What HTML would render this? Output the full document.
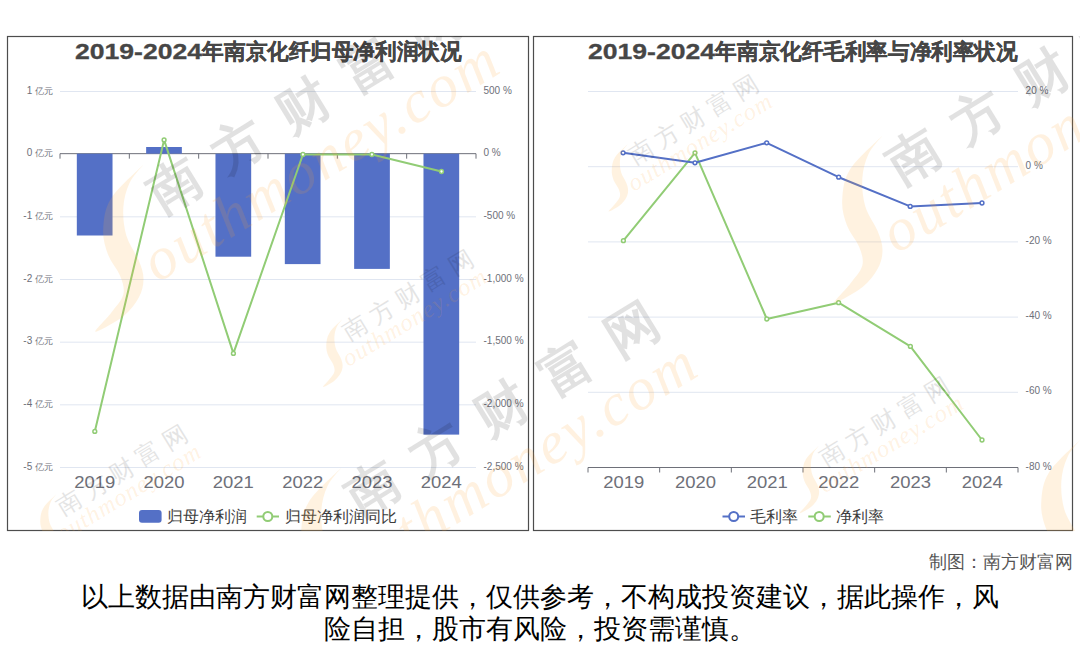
<!DOCTYPE html><html><head><meta charset="utf-8"><style>
html,body{margin:0;padding:0;background:#fff;width:1080px;height:646px;overflow:hidden}
svg{display:block;font-family:"Liberation Sans", sans-serif}
.t{position:absolute;white-space:nowrap;font-family:"Liberation Sans", sans-serif}
</style></head><body>
<svg width="1080" height="646" viewBox="0 0 1080 646">

<rect x="7.5" y="36.5" width="521" height="494" fill="none" stroke="#4d4d4d" stroke-width="1.2"/>
<line x1="60" y1="91.50" x2="476" y2="91.50" stroke="#E0E6F1" stroke-width="1"/>
<line x1="60" y1="216.83" x2="476" y2="216.83" stroke="#E0E6F1" stroke-width="1"/>
<line x1="60" y1="279.50" x2="476" y2="279.50" stroke="#E0E6F1" stroke-width="1"/>
<line x1="60" y1="342.17" x2="476" y2="342.17" stroke="#E0E6F1" stroke-width="1"/>
<line x1="60" y1="404.83" x2="476" y2="404.83" stroke="#E0E6F1" stroke-width="1"/>
<line x1="60" y1="467.50" x2="476" y2="467.50" stroke="#E0E6F1" stroke-width="1"/>
<line x1="60" y1="153.67" x2="476" y2="153.67" stroke="#6E7079" stroke-width="1"/>
<line x1="60.00" y1="153.67" x2="60.00" y2="158.67" stroke="#6E7079" stroke-width="1"/>
<line x1="129.33" y1="153.67" x2="129.33" y2="158.67" stroke="#6E7079" stroke-width="1"/>
<line x1="198.67" y1="153.67" x2="198.67" y2="158.67" stroke="#6E7079" stroke-width="1"/>
<line x1="268.00" y1="153.67" x2="268.00" y2="158.67" stroke="#6E7079" stroke-width="1"/>
<line x1="337.33" y1="153.67" x2="337.33" y2="158.67" stroke="#6E7079" stroke-width="1"/>
<line x1="406.67" y1="153.67" x2="406.67" y2="158.67" stroke="#6E7079" stroke-width="1"/>
<line x1="476.00" y1="153.67" x2="476.00" y2="158.67" stroke="#6E7079" stroke-width="1"/>
<rect x="76.82" y="153.67" width="35.7" height="81.83" fill="#5470C6"/>
<rect x="146.15" y="147.00" width="35.7" height="6.67" fill="#5470C6"/>
<rect x="215.48" y="153.67" width="35.7" height="103.03" fill="#5470C6"/>
<rect x="284.82" y="153.67" width="35.7" height="110.43" fill="#5470C6"/>
<rect x="354.15" y="153.67" width="35.7" height="115.23" fill="#5470C6"/>
<rect x="423.48" y="153.67" width="35.7" height="280.93" fill="#5470C6"/>
<text x="53" y="93.50" font-size="10" fill="#6E7079" text-anchor="end">1 <tspan font-size="9">亿元</tspan></text>
<text x="53" y="156.17" font-size="10" fill="#6E7079" text-anchor="end">0 <tspan font-size="9">亿元</tspan></text>
<text x="53" y="218.83" font-size="10" fill="#6E7079" text-anchor="end">-1 <tspan font-size="9">亿元</tspan></text>
<text x="53" y="281.50" font-size="10" fill="#6E7079" text-anchor="end">-2 <tspan font-size="9">亿元</tspan></text>
<text x="53" y="344.17" font-size="10" fill="#6E7079" text-anchor="end">-3 <tspan font-size="9">亿元</tspan></text>
<text x="53" y="406.83" font-size="10" fill="#6E7079" text-anchor="end">-4 <tspan font-size="9">亿元</tspan></text>
<text x="53" y="469.50" font-size="10" fill="#6E7079" text-anchor="end">-5 <tspan font-size="9">亿元</tspan></text>
<text x="483.5" y="93.50" font-size="10" fill="#6E7079">500 %</text>
<text x="483.5" y="156.17" font-size="10" fill="#6E7079">0 %</text>
<text x="483.5" y="218.83" font-size="10" fill="#6E7079">-500 %</text>
<text x="483.5" y="281.50" font-size="10" fill="#6E7079">-1,000 %</text>
<text x="483.5" y="344.17" font-size="10" fill="#6E7079">-1,500 %</text>
<text x="483.5" y="406.83" font-size="10" fill="#6E7079">-2,000 %</text>
<text x="483.5" y="469.50" font-size="10" fill="#6E7079">-2,500 %</text>
<text x="74.17" y="488" font-size="16" fill="#6E7079" textLength="41" lengthAdjust="spacingAndGlyphs">2019</text>
<text x="143.50" y="488" font-size="16" fill="#6E7079" textLength="41" lengthAdjust="spacingAndGlyphs">2020</text>
<text x="212.83" y="488" font-size="16" fill="#6E7079" textLength="41" lengthAdjust="spacingAndGlyphs">2021</text>
<text x="282.17" y="488" font-size="16" fill="#6E7079" textLength="41" lengthAdjust="spacingAndGlyphs">2022</text>
<text x="351.50" y="488" font-size="16" fill="#6E7079" textLength="41" lengthAdjust="spacingAndGlyphs">2023</text>
<text x="420.83" y="488" font-size="16" fill="#6E7079" textLength="41" lengthAdjust="spacingAndGlyphs">2024</text>
<polyline fill="none" stroke="#91CC75" stroke-width="2" stroke-linejoin="round" points="94.8,431.4 164.1,139.9 233.4,353.4 302.9,154.5 371.9,154.5 441.5,171.5"/>
<circle cx="94.8" cy="431.4" r="1.9" fill="#fff" stroke="#91CC75" stroke-width="1.5"/>
<circle cx="164.1" cy="139.9" r="1.9" fill="#fff" stroke="#91CC75" stroke-width="1.5"/>
<circle cx="233.4" cy="353.4" r="1.9" fill="#fff" stroke="#91CC75" stroke-width="1.5"/>
<circle cx="302.9" cy="154.5" r="1.9" fill="#fff" stroke="#91CC75" stroke-width="1.5"/>
<circle cx="371.9" cy="154.5" r="1.9" fill="#fff" stroke="#91CC75" stroke-width="1.5"/>
<circle cx="441.5" cy="171.5" r="1.9" fill="#fff" stroke="#91CC75" stroke-width="1.5"/>
<text x="75" y="59" font-size="21.5" font-weight="bold" fill="#464646" stroke="#464646" stroke-width="0.3" textLength="127" lengthAdjust="spacingAndGlyphs">2019-2024</text>
<text x="202.4" y="59" font-size="21.6" font-weight="bold" fill="#464646" stroke="#464646" stroke-width="0.3" textLength="259" lengthAdjust="spacingAndGlyphs">年南京化纤归母净利润状况</text>
<rect x="139" y="510" width="22.6" height="12.8" rx="3" fill="#5470C6"/>
<text x="167" y="522" font-size="16.1" fill="#3d3d3d">归母净利润</text>
<line x1="256.7" y1="516.5" x2="279" y2="516.5" stroke="#91CC75" stroke-width="2"/>
<circle cx="267.8" cy="516.5" r="4.5" fill="#fff" stroke="#91CC75" stroke-width="2"/>
<text x="284.8" y="522" font-size="16.1" fill="#3d3d3d">归母净利润同比</text>
<rect x="533.5" y="36.5" width="539" height="494" fill="none" stroke="#4d4d4d" stroke-width="1.2"/>
<line x1="588" y1="91.50" x2="1018" y2="91.50" stroke="#E0E6F1" stroke-width="1"/>
<line x1="588" y1="166.70" x2="1018" y2="166.70" stroke="#E0E6F1" stroke-width="1"/>
<line x1="588" y1="241.90" x2="1018" y2="241.90" stroke="#E0E6F1" stroke-width="1"/>
<line x1="588" y1="317.10" x2="1018" y2="317.10" stroke="#E0E6F1" stroke-width="1"/>
<line x1="588" y1="392.30" x2="1018" y2="392.30" stroke="#E0E6F1" stroke-width="1"/>
<line x1="588" y1="467.5" x2="1018" y2="467.5" stroke="#6E7079" stroke-width="1"/>
<line x1="588.00" y1="467.5" x2="588.00" y2="472.5" stroke="#6E7079" stroke-width="1"/>
<line x1="659.67" y1="467.5" x2="659.67" y2="472.5" stroke="#6E7079" stroke-width="1"/>
<line x1="731.33" y1="467.5" x2="731.33" y2="472.5" stroke="#6E7079" stroke-width="1"/>
<line x1="803.00" y1="467.5" x2="803.00" y2="472.5" stroke="#6E7079" stroke-width="1"/>
<line x1="874.67" y1="467.5" x2="874.67" y2="472.5" stroke="#6E7079" stroke-width="1"/>
<line x1="946.33" y1="467.5" x2="946.33" y2="472.5" stroke="#6E7079" stroke-width="1"/>
<line x1="1018.00" y1="467.5" x2="1018.00" y2="472.5" stroke="#6E7079" stroke-width="1"/>
<text x="1025.6" y="93.50" font-size="10" fill="#6E7079">20 %</text>
<text x="1025.6" y="168.70" font-size="10" fill="#6E7079">0 %</text>
<text x="1025.6" y="243.90" font-size="10" fill="#6E7079">-20 %</text>
<text x="1025.6" y="319.10" font-size="10" fill="#6E7079">-40 %</text>
<text x="1025.6" y="394.30" font-size="10" fill="#6E7079">-60 %</text>
<text x="1025.6" y="469.50" font-size="10" fill="#6E7079">-80 %</text>
<text x="603.33" y="488" font-size="16" fill="#6E7079" textLength="41" lengthAdjust="spacingAndGlyphs">2019</text>
<text x="675.00" y="488" font-size="16" fill="#6E7079" textLength="41" lengthAdjust="spacingAndGlyphs">2020</text>
<text x="746.67" y="488" font-size="16" fill="#6E7079" textLength="41" lengthAdjust="spacingAndGlyphs">2021</text>
<text x="818.33" y="488" font-size="16" fill="#6E7079" textLength="41" lengthAdjust="spacingAndGlyphs">2022</text>
<text x="890.00" y="488" font-size="16" fill="#6E7079" textLength="41" lengthAdjust="spacingAndGlyphs">2023</text>
<text x="961.67" y="488" font-size="16" fill="#6E7079" textLength="41" lengthAdjust="spacingAndGlyphs">2024</text>
<polyline fill="none" stroke="#91CC75" stroke-width="2" stroke-linejoin="round" points="623.4,240.7 695,152.8 766.8,319 838.6,302.7 910.4,346.4 982,440"/>
<circle cx="623.4" cy="240.7" r="1.9" fill="#fff" stroke="#91CC75" stroke-width="1.5"/>
<circle cx="695" cy="152.8" r="1.9" fill="#fff" stroke="#91CC75" stroke-width="1.5"/>
<circle cx="766.8" cy="319" r="1.9" fill="#fff" stroke="#91CC75" stroke-width="1.5"/>
<circle cx="838.6" cy="302.7" r="1.9" fill="#fff" stroke="#91CC75" stroke-width="1.5"/>
<circle cx="910.4" cy="346.4" r="1.9" fill="#fff" stroke="#91CC75" stroke-width="1.5"/>
<circle cx="982" cy="440" r="1.9" fill="#fff" stroke="#91CC75" stroke-width="1.5"/>
<polyline fill="none" stroke="#5470C6" stroke-width="2" stroke-linejoin="round" points="623.1,152.8 695,162.8 766.7,142.8 838.7,177.2 910.2,206.4 982,203"/>
<circle cx="623.1" cy="152.8" r="1.9" fill="#fff" stroke="#5470C6" stroke-width="1.5"/>
<circle cx="695" cy="162.8" r="1.9" fill="#fff" stroke="#5470C6" stroke-width="1.5"/>
<circle cx="766.7" cy="142.8" r="1.9" fill="#fff" stroke="#5470C6" stroke-width="1.5"/>
<circle cx="838.7" cy="177.2" r="1.9" fill="#fff" stroke="#5470C6" stroke-width="1.5"/>
<circle cx="910.2" cy="206.4" r="1.9" fill="#fff" stroke="#5470C6" stroke-width="1.5"/>
<circle cx="982" cy="203" r="1.9" fill="#fff" stroke="#5470C6" stroke-width="1.5"/>
<text x="588" y="59" font-size="21.5" font-weight="bold" fill="#464646" stroke="#464646" stroke-width="0.3" textLength="127" lengthAdjust="spacingAndGlyphs">2019-2024</text>
<text x="715.4" y="59" font-size="21.6" font-weight="bold" fill="#464646" stroke="#464646" stroke-width="0.3" textLength="302" lengthAdjust="spacingAndGlyphs">年南京化纤毛利率与净利率状况</text>
<line x1="722.5" y1="516.5" x2="745" y2="516.5" stroke="#5470C6" stroke-width="2"/>
<circle cx="733.7" cy="516.5" r="4.5" fill="#fff" stroke="#5470C6" stroke-width="2"/>
<text x="750" y="522" font-size="16.1" fill="#3d3d3d">毛利率</text>
<line x1="808.3" y1="516.5" x2="830.8" y2="516.5" stroke="#91CC75" stroke-width="2"/>
<circle cx="819.2" cy="516.5" r="4.5" fill="#fff" stroke="#91CC75" stroke-width="2"/>
<text x="835.8" y="522" font-size="16.1" fill="#3d3d3d">净利率</text>
<defs><clipPath id="wclip"><rect x="0" y="36" width="1080" height="495"/></clipPath></defs>
<g clip-path="url(#wclip)">
<g transform="translate(913,155) scale(1.0)">
<path d="M-30.5,-19.5 C-32.8,-16.4 -41.1,-8.2 -44.5,-1.0 C-47.9,6.2 -50.2,15.0 -50.7,23.8 C-51.2,32.6 -50.2,42.9 -47.6,51.7 C-45.0,60.5 -38.1,69.3 -35.2,76.5 C-32.4,83.7 -30.5,88.8 -30.5,95.0 C-30.5,101.2 -31.8,107.4 -35.2,113.6 C-38.6,119.8 -43.5,126.5 -50.7,132.2 C-57.9,137.9 -76.5,148.2 -78.5,147.7 C-80.5,147.2 -67.6,135.2 -63.0,129.0 C-58.4,122.8 -52.2,116.7 -50.7,110.5 C-49.2,104.3 -51.2,98.7 -53.8,92.0 C-56.4,85.3 -63.3,78.0 -66.1,70.3 C-68.9,62.5 -71.3,54.8 -70.8,45.5 C-70.3,36.2 -69.7,25.3 -63.0,14.5 C-56.3,3.7 -35.9,-13.8 -30.5,-19.5Z" fill="#FFB040" fill-opacity="0.16"/>
<g transform="rotate(-31.5)">
<g opacity="0.115" fill="#000">
<text x="0" y="18.7" font-size="52" font-weight="bold" text-anchor="middle">南</text>
<text x="76" y="18.7" font-size="52" font-weight="bold" text-anchor="middle">方</text>
<text x="152" y="18.7" font-size="52" font-weight="bold" text-anchor="middle">财</text>
<text x="228" y="18.7" font-size="52" font-weight="bold" text-anchor="middle">富</text>
<text x="304" y="18.7" font-size="52" font-weight="bold" text-anchor="middle">网</text>
</g>
<text x="-66" y="76" font-size="60" font-family="Liberation Serif" font-style="italic" fill="#FFA030" fill-opacity="0.15" textLength="405" lengthAdjust="spacing">outhmoney.com</text>
</g></g>
<g transform="translate(174,184) scale(1.0)">
<path d="M-30.5,-19.5 C-32.8,-16.4 -41.1,-8.2 -44.5,-1.0 C-47.9,6.2 -50.2,15.0 -50.7,23.8 C-51.2,32.6 -50.2,42.9 -47.6,51.7 C-45.0,60.5 -38.1,69.3 -35.2,76.5 C-32.4,83.7 -30.5,88.8 -30.5,95.0 C-30.5,101.2 -31.8,107.4 -35.2,113.6 C-38.6,119.8 -43.5,126.5 -50.7,132.2 C-57.9,137.9 -76.5,148.2 -78.5,147.7 C-80.5,147.2 -67.6,135.2 -63.0,129.0 C-58.4,122.8 -52.2,116.7 -50.7,110.5 C-49.2,104.3 -51.2,98.7 -53.8,92.0 C-56.4,85.3 -63.3,78.0 -66.1,70.3 C-68.9,62.5 -71.3,54.8 -70.8,45.5 C-70.3,36.2 -69.7,25.3 -63.0,14.5 C-56.3,3.7 -35.9,-13.8 -30.5,-19.5Z" fill="#FFB040" fill-opacity="0.16"/>
<g transform="rotate(-31.5)">
<g opacity="0.115" fill="#000">
<text x="0" y="18.7" font-size="52" font-weight="bold" text-anchor="middle">南</text>
<text x="76" y="18.7" font-size="52" font-weight="bold" text-anchor="middle">方</text>
<text x="152" y="18.7" font-size="52" font-weight="bold" text-anchor="middle">财</text>
<text x="228" y="18.7" font-size="52" font-weight="bold" text-anchor="middle">富</text>
<text x="304" y="18.7" font-size="52" font-weight="bold" text-anchor="middle">网</text>
</g>
<text x="-66" y="76" font-size="60" font-family="Liberation Serif" font-style="italic" fill="#FFA030" fill-opacity="0.15" textLength="405" lengthAdjust="spacing">outhmoney.com</text>
</g></g>
<g transform="translate(372,487) scale(1.0)">
<path d="M-30.5,-19.5 C-32.8,-16.4 -41.1,-8.2 -44.5,-1.0 C-47.9,6.2 -50.2,15.0 -50.7,23.8 C-51.2,32.6 -50.2,42.9 -47.6,51.7 C-45.0,60.5 -38.1,69.3 -35.2,76.5 C-32.4,83.7 -30.5,88.8 -30.5,95.0 C-30.5,101.2 -31.8,107.4 -35.2,113.6 C-38.6,119.8 -43.5,126.5 -50.7,132.2 C-57.9,137.9 -76.5,148.2 -78.5,147.7 C-80.5,147.2 -67.6,135.2 -63.0,129.0 C-58.4,122.8 -52.2,116.7 -50.7,110.5 C-49.2,104.3 -51.2,98.7 -53.8,92.0 C-56.4,85.3 -63.3,78.0 -66.1,70.3 C-68.9,62.5 -71.3,54.8 -70.8,45.5 C-70.3,36.2 -69.7,25.3 -63.0,14.5 C-56.3,3.7 -35.9,-13.8 -30.5,-19.5Z" fill="#FFB040" fill-opacity="0.16"/>
<g transform="rotate(-31.5)">
<g opacity="0.115" fill="#000">
<text x="0" y="18.7" font-size="52" font-weight="bold" text-anchor="middle">南</text>
<text x="76" y="18.7" font-size="52" font-weight="bold" text-anchor="middle">方</text>
<text x="152" y="18.7" font-size="52" font-weight="bold" text-anchor="middle">财</text>
<text x="228" y="18.7" font-size="52" font-weight="bold" text-anchor="middle">富</text>
<text x="304" y="18.7" font-size="52" font-weight="bold" text-anchor="middle">网</text>
</g>
<text x="-66" y="76" font-size="60" font-family="Liberation Serif" font-style="italic" fill="#FFA030" fill-opacity="0.15" textLength="405" lengthAdjust="spacing">outhmoney.com</text>
</g></g>
<g transform="translate(1112,458) scale(1.0)">
<path d="M-30.5,-19.5 C-32.8,-16.4 -41.1,-8.2 -44.5,-1.0 C-47.9,6.2 -50.2,15.0 -50.7,23.8 C-51.2,32.6 -50.2,42.9 -47.6,51.7 C-45.0,60.5 -38.1,69.3 -35.2,76.5 C-32.4,83.7 -30.5,88.8 -30.5,95.0 C-30.5,101.2 -31.8,107.4 -35.2,113.6 C-38.6,119.8 -43.5,126.5 -50.7,132.2 C-57.9,137.9 -76.5,148.2 -78.5,147.7 C-80.5,147.2 -67.6,135.2 -63.0,129.0 C-58.4,122.8 -52.2,116.7 -50.7,110.5 C-49.2,104.3 -51.2,98.7 -53.8,92.0 C-56.4,85.3 -63.3,78.0 -66.1,70.3 C-68.9,62.5 -71.3,54.8 -70.8,45.5 C-70.3,36.2 -69.7,25.3 -63.0,14.5 C-56.3,3.7 -35.9,-13.8 -30.5,-19.5Z" fill="#FFB040" fill-opacity="0.16"/>
<g transform="rotate(-31.5)">
<g opacity="0.115" fill="#000">
<text x="0" y="18.7" font-size="52" font-weight="bold" text-anchor="middle">南</text>
<text x="76" y="18.7" font-size="52" font-weight="bold" text-anchor="middle">方</text>
<text x="152" y="18.7" font-size="52" font-weight="bold" text-anchor="middle">财</text>
<text x="228" y="18.7" font-size="52" font-weight="bold" text-anchor="middle">富</text>
<text x="304" y="18.7" font-size="52" font-weight="bold" text-anchor="middle">网</text>
</g>
<text x="-66" y="76" font-size="60" font-family="Liberation Serif" font-style="italic" fill="#FFA030" fill-opacity="0.15" textLength="405" lengthAdjust="spacing">outhmoney.com</text>
</g></g>
<g transform="translate(355,327) scale(0.406)">
<path d="M-30.5,-19.5 C-32.8,-16.4 -41.1,-8.2 -44.5,-1.0 C-47.9,6.2 -50.2,15.0 -50.7,23.8 C-51.2,32.6 -50.2,42.9 -47.6,51.7 C-45.0,60.5 -38.1,69.3 -35.2,76.5 C-32.4,83.7 -30.5,88.8 -30.5,95.0 C-30.5,101.2 -31.8,107.4 -35.2,113.6 C-38.6,119.8 -43.5,126.5 -50.7,132.2 C-57.9,137.9 -76.5,148.2 -78.5,147.7 C-80.5,147.2 -67.6,135.2 -63.0,129.0 C-58.4,122.8 -52.2,116.7 -50.7,110.5 C-49.2,104.3 -51.2,98.7 -53.8,92.0 C-56.4,85.3 -63.3,78.0 -66.1,70.3 C-68.9,62.5 -71.3,54.8 -70.8,45.5 C-70.3,36.2 -69.7,25.3 -63.0,14.5 C-56.3,3.7 -35.9,-13.8 -30.5,-19.5Z" fill="#FFB040" fill-opacity="0.16"/>
<g transform="rotate(-31.5)">
<g opacity="0.10" fill="#000">
<text x="0" y="21.6" font-size="60" font-weight="500" text-anchor="middle">南</text>
<text x="76" y="21.6" font-size="60" font-weight="500" text-anchor="middle">方</text>
<text x="152" y="21.6" font-size="60" font-weight="500" text-anchor="middle">财</text>
<text x="228" y="21.6" font-size="60" font-weight="500" text-anchor="middle">富</text>
<text x="304" y="21.6" font-size="60" font-weight="500" text-anchor="middle">网</text>
</g>
<text x="-66" y="76" font-size="60" font-family="Liberation Serif" font-style="italic" fill="#FFA030" fill-opacity="0.15" textLength="405" lengthAdjust="spacing">outhmoney.com</text>
</g></g>
<g transform="translate(69,502) scale(0.406)">
<path d="M-30.5,-19.5 C-32.8,-16.4 -41.1,-8.2 -44.5,-1.0 C-47.9,6.2 -50.2,15.0 -50.7,23.8 C-51.2,32.6 -50.2,42.9 -47.6,51.7 C-45.0,60.5 -38.1,69.3 -35.2,76.5 C-32.4,83.7 -30.5,88.8 -30.5,95.0 C-30.5,101.2 -31.8,107.4 -35.2,113.6 C-38.6,119.8 -43.5,126.5 -50.7,132.2 C-57.9,137.9 -76.5,148.2 -78.5,147.7 C-80.5,147.2 -67.6,135.2 -63.0,129.0 C-58.4,122.8 -52.2,116.7 -50.7,110.5 C-49.2,104.3 -51.2,98.7 -53.8,92.0 C-56.4,85.3 -63.3,78.0 -66.1,70.3 C-68.9,62.5 -71.3,54.8 -70.8,45.5 C-70.3,36.2 -69.7,25.3 -63.0,14.5 C-56.3,3.7 -35.9,-13.8 -30.5,-19.5Z" fill="#FFB040" fill-opacity="0.16"/>
<g transform="rotate(-31.5)">
<g opacity="0.10" fill="#000">
<text x="0" y="21.6" font-size="60" font-weight="500" text-anchor="middle">南</text>
<text x="76" y="21.6" font-size="60" font-weight="500" text-anchor="middle">方</text>
<text x="152" y="21.6" font-size="60" font-weight="500" text-anchor="middle">财</text>
<text x="228" y="21.6" font-size="60" font-weight="500" text-anchor="middle">富</text>
<text x="304" y="21.6" font-size="60" font-weight="500" text-anchor="middle">网</text>
</g>
<text x="-66" y="76" font-size="60" font-family="Liberation Serif" font-style="italic" fill="#FFA030" fill-opacity="0.15" textLength="405" lengthAdjust="spacing">outhmoney.com</text>
</g></g>
<g transform="translate(640.5,151.6) scale(0.406)">
<path d="M-30.5,-19.5 C-32.8,-16.4 -41.1,-8.2 -44.5,-1.0 C-47.9,6.2 -50.2,15.0 -50.7,23.8 C-51.2,32.6 -50.2,42.9 -47.6,51.7 C-45.0,60.5 -38.1,69.3 -35.2,76.5 C-32.4,83.7 -30.5,88.8 -30.5,95.0 C-30.5,101.2 -31.8,107.4 -35.2,113.6 C-38.6,119.8 -43.5,126.5 -50.7,132.2 C-57.9,137.9 -76.5,148.2 -78.5,147.7 C-80.5,147.2 -67.6,135.2 -63.0,129.0 C-58.4,122.8 -52.2,116.7 -50.7,110.5 C-49.2,104.3 -51.2,98.7 -53.8,92.0 C-56.4,85.3 -63.3,78.0 -66.1,70.3 C-68.9,62.5 -71.3,54.8 -70.8,45.5 C-70.3,36.2 -69.7,25.3 -63.0,14.5 C-56.3,3.7 -35.9,-13.8 -30.5,-19.5Z" fill="#FFB040" fill-opacity="0.16"/>
<g transform="rotate(-31.5)">
<g opacity="0.10" fill="#000">
<text x="0" y="21.6" font-size="60" font-weight="500" text-anchor="middle">南</text>
<text x="76" y="21.6" font-size="60" font-weight="500" text-anchor="middle">方</text>
<text x="152" y="21.6" font-size="60" font-weight="500" text-anchor="middle">财</text>
<text x="228" y="21.6" font-size="60" font-weight="500" text-anchor="middle">富</text>
<text x="304" y="21.6" font-size="60" font-weight="500" text-anchor="middle">网</text>
</g>
<text x="-66" y="76" font-size="60" font-family="Liberation Serif" font-style="italic" fill="#FFA030" fill-opacity="0.15" textLength="405" lengthAdjust="spacing">outhmoney.com</text>
</g></g>
<g transform="translate(831.5,453.3) scale(0.406)">
<path d="M-30.5,-19.5 C-32.8,-16.4 -41.1,-8.2 -44.5,-1.0 C-47.9,6.2 -50.2,15.0 -50.7,23.8 C-51.2,32.6 -50.2,42.9 -47.6,51.7 C-45.0,60.5 -38.1,69.3 -35.2,76.5 C-32.4,83.7 -30.5,88.8 -30.5,95.0 C-30.5,101.2 -31.8,107.4 -35.2,113.6 C-38.6,119.8 -43.5,126.5 -50.7,132.2 C-57.9,137.9 -76.5,148.2 -78.5,147.7 C-80.5,147.2 -67.6,135.2 -63.0,129.0 C-58.4,122.8 -52.2,116.7 -50.7,110.5 C-49.2,104.3 -51.2,98.7 -53.8,92.0 C-56.4,85.3 -63.3,78.0 -66.1,70.3 C-68.9,62.5 -71.3,54.8 -70.8,45.5 C-70.3,36.2 -69.7,25.3 -63.0,14.5 C-56.3,3.7 -35.9,-13.8 -30.5,-19.5Z" fill="#FFB040" fill-opacity="0.16"/>
<g transform="rotate(-31.5)">
<g opacity="0.10" fill="#000">
<text x="0" y="21.6" font-size="60" font-weight="500" text-anchor="middle">南</text>
<text x="76" y="21.6" font-size="60" font-weight="500" text-anchor="middle">方</text>
<text x="152" y="21.6" font-size="60" font-weight="500" text-anchor="middle">财</text>
<text x="228" y="21.6" font-size="60" font-weight="500" text-anchor="middle">富</text>
<text x="304" y="21.6" font-size="60" font-weight="500" text-anchor="middle">网</text>
</g>
<text x="-66" y="76" font-size="60" font-family="Liberation Serif" font-style="italic" fill="#FFA030" fill-opacity="0.15" textLength="405" lengthAdjust="spacing">outhmoney.com</text>
</g></g>
</g>
<text x="1072.8" y="567.5" font-size="18.2" fill="#555" text-anchor="end">制图：南方财富网</text>
<text x="540" y="606" font-size="27" fill="#000" text-anchor="middle">以上数据由南方财富网整理提供，仅供参考，不构成投资建议，据此操作，风</text>
<text x="540" y="638" font-size="27" fill="#000" text-anchor="middle">险自担，股市有风险，投资需谨慎。</text>
</svg></body></html>
